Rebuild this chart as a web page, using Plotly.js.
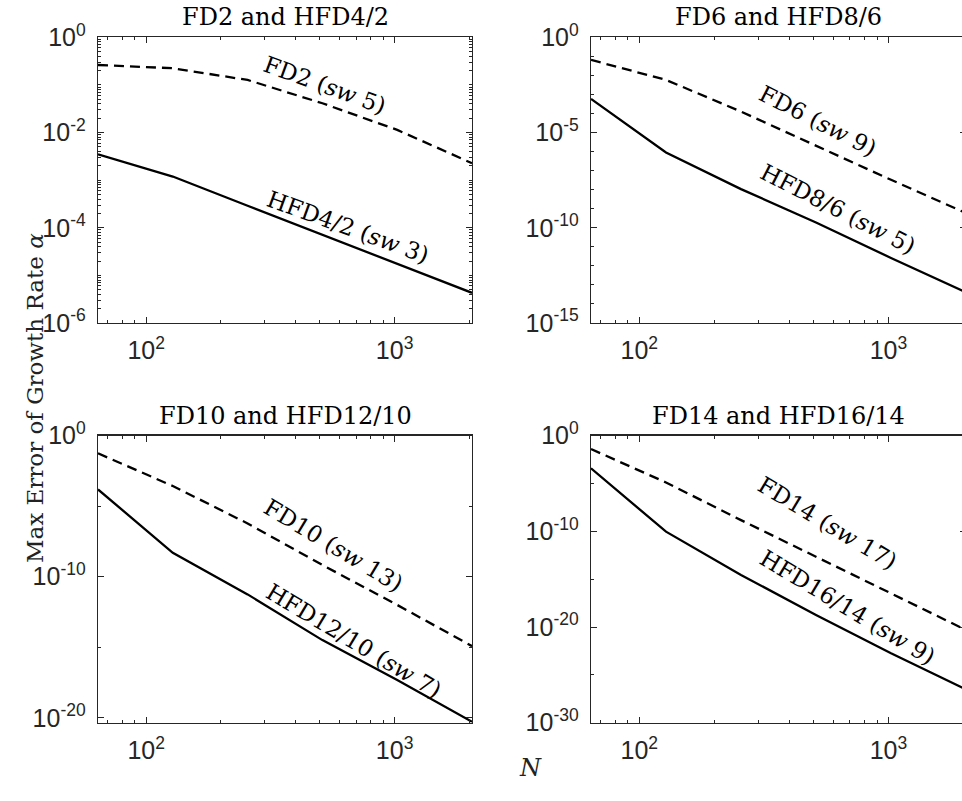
<!DOCTYPE html>
<html>
<head>
<meta charset="utf-8">
<script src="https://cdn.plot.ly/plotly-3.0.1.min.js"></script>
<style>html,body{margin:0;padding:0;overflow:hidden;background:#fff;}#chart{width:1000px;height:801px;}</style>
</head>
<body>
<div id="chart"></div>
<script>
// ---- data ----
const N = [64, 128, 256, 512, 1024, 2048];

const fd2     = [0.262, 0.224, 0.127, 0.0412, 0.01135, 0.00227];
const hfd4_2  = [3.5e-3, 1.19e-3, 2.9e-4, 7.1e-5, 1.75e-5, 4.3e-6];

const fd6     = [6.5e-2, 5.8e-3, 1.26e-4, 2.0e-6, 3.3e-8, 5.9e-10];
const hfd8_6  = [5.8e-4, 8.9e-7, 1.07e-8, 1.9e-10, 2.6e-12, 4.1e-14];

const fd10    = [5.6e-2, 2.7e-4, 6.0e-7, 6.8e-10, 1.0e-12, 1.2e-15];
const hfd12_10= [1.55e-4, 5.0e-9, 5.6e-12, 3.2e-15, 4.7e-18, 5.2e-21];

const fd14    = [4.0e-2, 1.3e-5, 1.5e-9, 2.2e-13, 3.3e-17, 4.9e-21];
const hfd16_14= [3.9e-4, 9.3e-11, 2.8e-15, 1.8e-19, 1.8e-23, 3.0e-27];

const titles = ['FD2 and HFD4/2', 'FD6 and HFD8/6', 'FD10 and HFD12/10', 'FD14 and HFD16/14'];
const dashedLabels = ['FD2 (<i>sw</i> 5)', 'FD6 (<i>sw</i> 9)', 'FD10 (<i>sw</i> 13)', 'FD14 (<i>sw</i> 17)'];
const solidLabels  = ['HFD4/2 (<i>sw</i> 3)', 'HFD8/6 (<i>sw</i> 5)', 'HFD12/10 (<i>sw</i> 7)', 'HFD16/14 (<i>sw</i> 9)'];

const xTickVals = [100, 1000];
const xTickText = ['10<sup>2</sup>', '10<sup>3</sup>'];
const yTickExp = [[0, -2, -4, -6], [0, -5, -10, -15], [0, -10, -20], [0, -10, -20, -30]];
const yTickText = yTickExp.map(a => a.map(e => '10<sup>' + e + '</sup>'));

const yLabel = 'Max Error of Growth Rate <i>α</i>';
const xLabel = '<i>N</i>';

// ---- layout ----
const W = 1000, H = 801;
const xDomPx = [[98, 472], [591, 966]];
const yDomPx = [[37.3, 323], [435.7, 722.7]];
const yRanges = [[-6, 0], [-15, 0], [-20.35, 0], [-30, 0]];
const yMinorStep = ['D1', 1, 5, 5];

const dashedSeries = [fd2, fd6, fd10, fd14];
const solidSeries = [hfd4_2, hfd8_6, hfd12_10, hfd16_14];

const labelPos = [
  {d: [2.719, -1.0, 20], s: [2.812, -3.98, 20]},
  {d: [2.718, -4.39, 27], s: [2.798, -9.0, 27]},
  {d: [2.752, -7.75, 31], s: [2.836, -14.56, 31]},
  {d: [2.754, -9.13, 31], s: [2.834, -17.9, 31]}
];

const axColor = '#262626';
const serif = 'DejaVu Serif, serif';
const sans = 'Liberation Sans, Arial, sans-serif';

const traces = [];
const layout = {
  width: W, height: H,
  margin: {l: 0, r: 0, t: 0, b: 0},
  paper_bgcolor: '#fff', plot_bgcolor: '#fff',
  showlegend: false,
  annotations: []
};

function xMinor() {
  const v = [];
  for (let d = 10; d <= 1000; d *= 10) for (let k = 2; k <= 9; k++) { const t = k * d; if (t > 64 && t < 2048 && t !== 100 && t !== 1000) v.push(t); }
  return v;
}
function yMinor(i) {
  const r = yRanges[i], v = [];
  if (yMinorStep[i] === 'D1') {
    for (let e = Math.floor(r[0]); e < r[1]; e++) for (let k = 1; k <= 9; k++) {
      const t = k * Math.pow(10, e); const lt = Math.log10(t);
      if (lt > r[0] && lt < r[1] && (k > 1 || !yTickExp[i].includes(e))) v.push(t);
    }
  } else {
    for (let e = 0; e >= r[0]; e -= yMinorStep[i]) if (!yTickExp[i].includes(e)) v.push(Math.pow(10, e));
  }
  return v;
}

for (let i = 0; i < 4; i++) {
  const col = i % 2, row = Math.floor(i / 2);
  const xa = i === 0 ? 'x' : 'x' + (i + 1);
  const ya = i === 0 ? 'y' : 'y' + (i + 1);
  const xk = i === 0 ? 'xaxis' : 'xaxis' + (i + 1);
  const yk = i === 0 ? 'yaxis' : 'yaxis' + (i + 1);
  traces.push({x: N, y: dashedSeries[i], xaxis: xa, yaxis: ya, mode: 'lines', line: {color: '#000', width: 2.3, dash: '10px,6px'}, hoverinfo: 'skip'});
  traces.push({x: N, y: solidSeries[i], xaxis: xa, yaxis: ya, mode: 'lines', line: {color: '#000', width: 2.3}, hoverinfo: 'skip'});
  const common = {
    type: 'log', showgrid: false, zeroline: false, showline: true, linecolor: axColor, linewidth: 1.3,
    mirror: 'allticks', ticks: 'inside', ticklen: 6, tickcolor: axColor, tickwidth: 1,
    tickfont: {family: sans, size: 25, color: axColor}, tickmode: 'array', fixedrange: true
  };
  layout[xk] = Object.assign({}, common, {
    domain: [xDomPx[col][0] / W, xDomPx[col][1] / W],
    range: [Math.log10(64), Math.log10(2048)],
    anchor: ya, tickvals: xTickVals, ticktext: xTickText, ticklabelstandoff: 5,
    minor: {tickvals: xMinor(), ticks: 'inside', ticklen: 3, tickcolor: axColor, tickwidth: 1}
  });
  layout[yk] = Object.assign({}, common, {
    domain: [1 - yDomPx[row][1] / H, 1 - yDomPx[row][0] / H],
    range: yRanges[i], anchor: xa,
    tickvals: yTickExp[i].map(e => Math.pow(10, e)), ticktext: yTickText[i], ticklabelstandoff: 6,
    minor: {tickvals: yMinor(i), ticks: 'inside', ticklen: 3, tickcolor: axColor, tickwidth: 1}
  });
  // subplot title
  layout.annotations.push({
    xref: 'paper', yref: 'paper', x: (xDomPx[col][0] + xDomPx[col][1]) / 2 / W, y: 1 - (yDomPx[row][0] - 4) / H,
    xanchor: 'center', yanchor: 'bottom', showarrow: false, text: titles[i],
    font: {family: serif, size: 24, color: '#000'}
  });
  const lp = labelPos[i];
  layout.annotations.push({xref: xa, yref: ya, x: lp.d[0], y: lp.d[1], textangle: lp.d[2], showarrow: false, text: dashedLabels[i], font: {family: serif, size: 23, color: '#000'}});
  layout.annotations.push({xref: xa, yref: ya, x: lp.s[0], y: lp.s[1], textangle: lp.s[2], showarrow: false, text: solidLabels[i], font: {family: serif, size: 23, color: '#000'}});
}

layout.annotations.push({xref: 'paper', yref: 'paper', x: 20 / W, y: 1 - 398 / H, textangle: -90, showarrow: false, text: yLabel, font: {family: serif, size: 23, color: '#222'}});
layout.annotations.push({xref: 'paper', yref: 'paper', x: 530 / W, y: 1 - 784 / H, showarrow: false, text: xLabel, font: {family: serif, size: 24, color: '#222'}});

Plotly.newPlot('chart', traces, layout, {staticPlot: true, displayModeBar: false});
</script>
</body>
</html>
